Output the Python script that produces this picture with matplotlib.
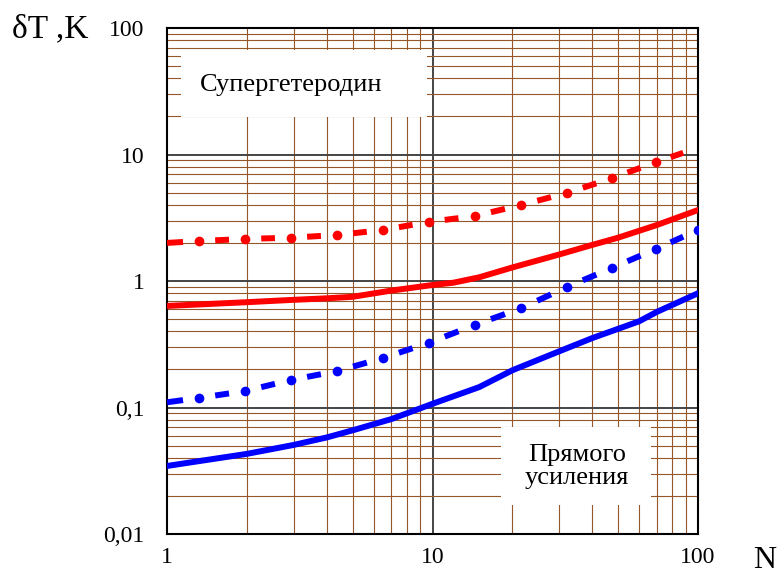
import numpy as np
import matplotlib
matplotlib.use("Agg")
import matplotlib.pyplot as plt
from matplotlib.patches import Rectangle
from matplotlib.ticker import FixedLocator, FixedFormatter, LogLocator, NullFormatter

plt.rcParams["font.family"] = ["Liberation Serif", "DejaVu Serif"]

# solid curves
red_n = [1, 2, 3, 4, 5, 7, 10, 12, 15, 20, 30, 40, 50, 70, 100]
red_y = [0.635, 0.68, 0.71, 0.73, 0.75, 0.84, 0.93, 0.97, 1.07, 1.28, 1.62, 1.93, 2.2, 2.77, 3.64]
blue_n = [1, 2, 3, 4, 5, 7, 10, 15, 20, 30, 40, 60, 70, 100]
blue_y = [0.0345, 0.043, 0.0506, 0.058, 0.066, 0.081, 0.107, 0.145, 0.197, 0.278, 0.354, 0.48, 0.57, 0.80]

# dashed curves (points after the first carry a dot)
red2_n = [1, 1.32, 1.97, 2.93, 4.37, 6.5, 9.67, 14.4, 21.6, 32.1, 47.5, 69.4, 100]
red2_y = [2.0, 2.07, 2.15, 2.2, 2.31, 2.53, 2.93, 3.26, 3.99, 4.97, 6.5, 8.7, 11.3]
blue2_n = [1, 1.32, 1.97, 2.93, 4.37, 6.5, 9.67, 14.4, 21.6, 32.1, 47.5, 69.4, 100]
blue2_y = [0.110, 0.119, 0.135, 0.165, 0.194, 0.246, 0.324, 0.449, 0.61, 0.897, 1.27, 1.79, 2.53]

y_ticks = [0.01, 0.1, 1, 10, 100]
y_labels = ["0,01", "0,1", "1", "10", "100"]
x_ticks = [1, 10, 100]
x_labels = ["1", "10", "100"]


def dashed(ax, n, y, color, dots):
    ln, ly = np.log10(n), np.log10(y)
    for i in range(len(n) - 1):
        a, b = (0.0, 0.5) if i == 0 else (0.35, 0.65)
        xs = 10 ** (ln[i] + np.array([a, b]) * (ln[i + 1] - ln[i]))
        ys = 10 ** (ly[i] + np.array([a, b]) * (ly[i + 1] - ly[i]))
        ax.plot(xs, ys, color=color, lw=4.3, solid_capstyle="butt", zorder=3)
    ax.plot(np.asarray(n)[dots], np.asarray(y)[dots], "o", color=color,
            ms=7, mec="none", zorder=3)


fig = plt.figure(figsize=(7.79, 5.75), dpi=100)
ax = fig.add_axes([0.2144, 0.0713, 0.6816, 0.88])
ax.set_xscale("log")
ax.set_yscale("log")
ax.set_xlim(1, 100)
ax.set_ylim(0.01, 100)
ax.set_axisbelow(True)

ax.grid(which="minor", color="#95562A", lw=0.8)
ax.grid(which="major", color="#444444", lw=1.4)
ax.xaxis.set_minor_locator(LogLocator(base=10, subs=np.arange(2, 10)))
ax.yaxis.set_minor_locator(LogLocator(base=10, subs=np.arange(2, 10)))
ax.xaxis.set_minor_formatter(NullFormatter())
ax.yaxis.set_minor_formatter(NullFormatter())
ax.xaxis.set_major_locator(FixedLocator(x_ticks))
ax.xaxis.set_major_formatter(FixedFormatter(x_labels))
ax.yaxis.set_major_locator(FixedLocator(y_ticks))
ax.yaxis.set_major_formatter(FixedFormatter(y_labels))
ax.tick_params(which="both", length=0)
ax.tick_params(axis="y", labelsize=17, pad=16)
ax.tick_params(axis="x", labelsize=17, pad=9)
for s in ax.spines.values():
    s.set_linewidth(1.5)
    s.set_color("black")

# white label boxes hiding the grid
ax.add_patch(Rectangle((0.026, 0.824), 0.464, 0.133, transform=ax.transAxes,
                       facecolor="white", edgecolor="none", zorder=1))
ax.add_patch(Rectangle((0.629, 0.057), 0.282, 0.154, transform=ax.transAxes,
                       facecolor="white", edgecolor="none", zorder=1))
ax.text(0.234, 0.887, "Супергетеродин", transform=ax.transAxes, fontsize=19,
        ha="center", va="center", zorder=4)
ax.text(0.772, 0.134, "Прямого\nусиления", transform=ax.transAxes, fontsize=19,
        ha="center", va="center", linespacing=1.05, zorder=4)

ax.plot(red_n, red_y, color="#FF0000", lw=4.3, zorder=3)
ax.plot(blue_n, blue_y, color="#0000FF", lw=4.3, zorder=3)
dashed(ax, red2_n, red2_y, "#FF0000", slice(1, -1))
dashed(ax, blue2_n, blue2_y, "#0000FF", slice(1, None))

fig.text(0.0154, 0.9357, "δT ,K", fontsize=24, ha="left", va="baseline")
fig.text(0.982, 0.012, "N", fontsize=23, ha="center", va="baseline")

fig.savefig("out.png", dpi=100, facecolor="white")
